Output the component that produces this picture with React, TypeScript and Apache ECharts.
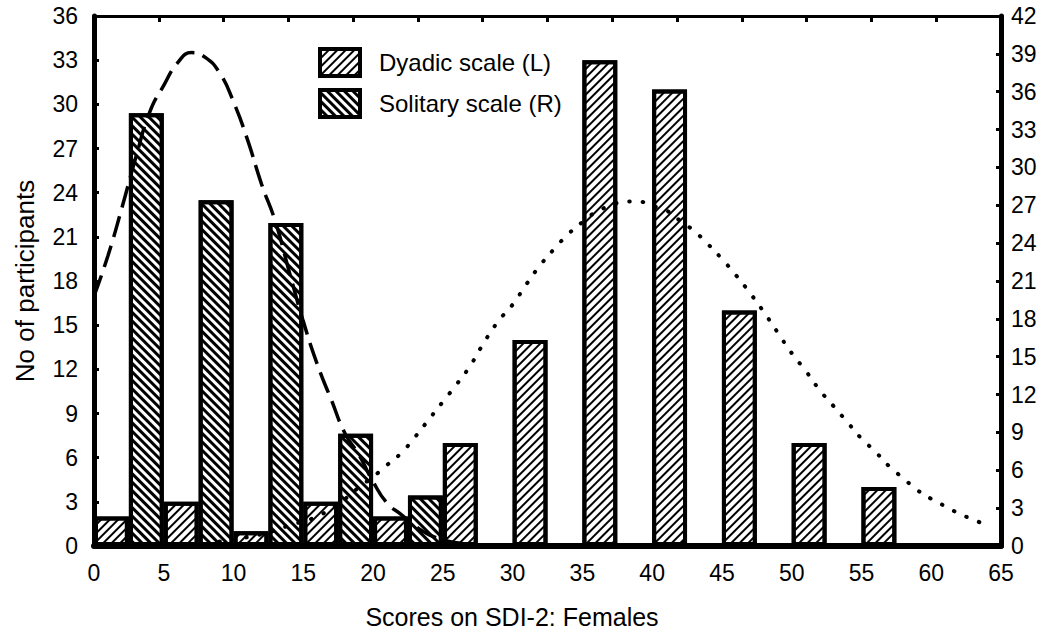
import React, { useEffect, useRef } from 'react';
import * as echarts from 'echarts';

// Histogram bins (width 5): dyadic bar in the first half, solitary in the second half
const binStarts = [0, 5, 10, 15, 20, 25, 30, 35, 40, 45, 50, 55, 60];
const dyadicCounts = [2, 3, 1, 3, 2, 7, 14, 33, 31, 16, 7, 4, 0]; // left axis
const solitaryCounts = [34.3, 27.4, 25.6, 8.9, 4.0, 0, 0, 0, 0, 0, 0, 0, 0]; // right axis

// Dashed fitted curve (solitary, right axis)
const dashedX = [0, 1, 2, 3, 4, 5, 6, 7, 8, 9, 10, 11, 12, 13, 14, 15, 16, 17, 18, 19, 20, 21, 22, 23, 24, 25, 26, 27, 28];
const dashedY = [19.8, 23.0, 26.8, 30.8, 34.4, 36.5, 38.3, 39.1, 38.7, 37.5, 35.2, 32.2, 28.7, 25.7, 21.7, 17.8, 14.4, 11.6, 8.9, 7.2, 5.1, 3.4, 2.5, 1.6, 0.9, 0.5, 0.25, 0.1, 0];

// Dotted fitted curve (dyadic, left axis)
const dottedX = [9, 12, 14, 16, 17, 18, 19, 20, 21, 22, 23, 24, 25, 26, 27, 28, 29, 30, 31, 32, 33, 34, 35, 36, 37, 38, 39, 40, 41, 42, 43, 44, 45, 46, 47, 48, 49, 50, 51, 52, 53, 54, 55, 56, 57, 58, 59, 60, 61, 62, 63, 64];
const dottedY = [0.3, 0.8, 1.4, 2.0, 2.6, 3.2, 4.0, 4.7, 5.5, 6.3, 7.4, 8.6, 9.8, 11.0, 12.3, 13.9, 15.3, 16.4, 17.8, 19.1, 20.2, 21.2, 22.0, 22.7, 23.1, 23.4, 23.4, 23.1, 22.8, 22.1, 21.4, 20.5, 19.5, 18.4, 17.2, 15.9, 14.5, 13.1, 11.9, 10.6, 9.5, 8.4, 7.3, 6.4, 5.4, 4.6, 3.8, 3.2, 2.7, 2.2, 1.8, 1.4];

const seriesNames = ['Dyadic scale (L)', 'Solitary scale (R)'];
const xTitle = 'Scores on SDI-2: Females';
const yTitle = 'No of participants';

const FONT = '"Liberation Sans", Arial, Helvetica, sans-serif';

export default function App() {
  const ref = useRef<HTMLDivElement>(null);
  useEffect(() => {
    const chart = echarts.init(ref.current!, null, { renderer: 'svg' });
    const slots = binStarts.flatMap((b) => [String(b), String(b + 2.5)]);
    const dyadicSlots = binStarts.flatMap((_, i) => [dyadicCounts[i], '-']);
    const solitarySlots = binStarts.flatMap((_, i) => ['-', solitaryCounts[i]]);

    const dyadicDecal = {
      symbol: 'rect',
      symbolSize: 1,
      dashArrayX: [1, 0],
      dashArrayY: [2, 4],
      rotation: -Math.PI / 4,
      color: '#000',
      backgroundColor: '#fff',
    };
    const solitaryDecal = {
      symbol: 'rect',
      symbolSize: 1,
      dashArrayX: [1, 0],
      dashArrayY: [3, 3],
      rotation: Math.PI / 4,
      color: '#000',
      backgroundColor: '#fff',
    };

    const labelStyle = { color: '#000', fontSize: 23, fontFamily: FONT };
    const thick = (w: number) => ({ show: true, onZero: false, lineStyle: { color: '#000', width: w } });

    chart.setOption({
      animation: false,
      backgroundColor: '#fff',
      textStyle: { fontFamily: FONT, color: '#000' },
      grid: { left: 94, right: 47, top: 16, bottom: 87, containLabel: false },
      legend: {
        data: seriesNames,
        orient: 'vertical',
        left: 313,
        top: 42,
        icon: 'rect',
        itemWidth: 40,
        itemHeight: 27,
        itemGap: 10,
        itemStyle: { borderColor: '#000', borderWidth: 4 },
        textStyle: { fontSize: 24, color: '#000', fontFamily: FONT, padding: [0, 0, 0, 14] },
      },
      xAxis: [
        {
          type: 'value',
          min: 0,
          max: 65,
          interval: 5,
          position: 'bottom',
          axisLine: thick(6),
          axisTick: { show: false },
          axisLabel: { ...labelStyle, margin: 15 },
          splitLine: { show: false },
        },
        {
          type: 'value',
          min: 0,
          max: 14,
          interval: 1,
          position: 'top',
          axisLine: thick(3),
          axisTick: { show: true, inside: true, length: 6, lineStyle: { color: '#000', width: 3 } },
          axisLabel: { show: false },
          splitLine: { show: false },
        },
        {
          type: 'category',
          data: slots,
          show: false,
          boundaryGap: true,
          position: 'bottom',
          axisLine: { show: false, onZero: false },
        },
      ],
      yAxis: [
        {
          type: 'value',
          min: 0,
          max: 36,
          interval: 3,
          position: 'left',
          name: yTitle,
          nameLocation: 'middle',
          nameGap: 56,
          nameTextStyle: { fontSize: 26, color: '#000', fontFamily: FONT },
          axisLine: thick(5),
          axisTick: { show: true, inside: true, length: 5, lineStyle: { color: '#000', width: 3 } },
          axisLabel: { ...labelStyle, margin: 16 },
          splitLine: { show: false },
        },
        {
          type: 'value',
          min: 0,
          max: 42,
          interval: 3,
          position: 'right',
          axisLine: thick(5),
          axisTick: { show: true, inside: true, length: 5, lineStyle: { color: '#000', width: 3 } },
          axisLabel: { ...labelStyle, margin: 10 },
          splitLine: { show: false },
        },
      ],
      graphic: [
        {
          type: 'text',
          x: 512,
          y: 617,
          style: {
            text: xTitle,
            align: 'center',
            verticalAlign: 'middle',
            fontSize: 25,
            fontFamily: FONT,
            fill: '#000',
          },
        },
      ],
      series: [
        {
          name: seriesNames[0],
          type: 'bar',
          xAxisIndex: 2,
          yAxisIndex: 0,
          data: dyadicSlots,
          barWidth: '100%',
          barGap: '-100%',
          itemStyle: { color: '#fff', borderColor: '#000', borderWidth: 4, decal: dyadicDecal },
          z: 2,
        },
        {
          name: seriesNames[1],
          type: 'bar',
          xAxisIndex: 2,
          yAxisIndex: 1,
          data: solitarySlots,
          barWidth: '100%',
          barGap: '-100%',
          itemStyle: { color: '#fff', borderColor: '#000', borderWidth: 4, decal: solitaryDecal },
          z: 2,
        },
        {
          type: 'line',
          xAxisIndex: 0,
          yAxisIndex: 1,
          data: dashedX.map((x, i) => [x, dashedY[i]]),
          smooth: true,
          showSymbol: false,
          symbol: 'none',
          lineStyle: { color: '#000', width: 3.5, type: [22, 9] },
          z: 5,
        },
        {
          type: 'line',
          xAxisIndex: 0,
          yAxisIndex: 0,
          data: dottedX.map((x, i) => [x, dottedY[i]]),
          smooth: true,
          showSymbol: false,
          symbol: 'none',
          lineStyle: { color: '#000', width: 4, type: [0.5, 13], cap: 'round' },
          z: 5,
        },
      ],
    });
    return () => chart.dispose();
  }, []);
  return (
    <div
      ref={ref}
      style={{ position: 'fixed', left: 0, top: 0, width: 1048, height: 633, background: '#fff' }}
    />
  );
}
